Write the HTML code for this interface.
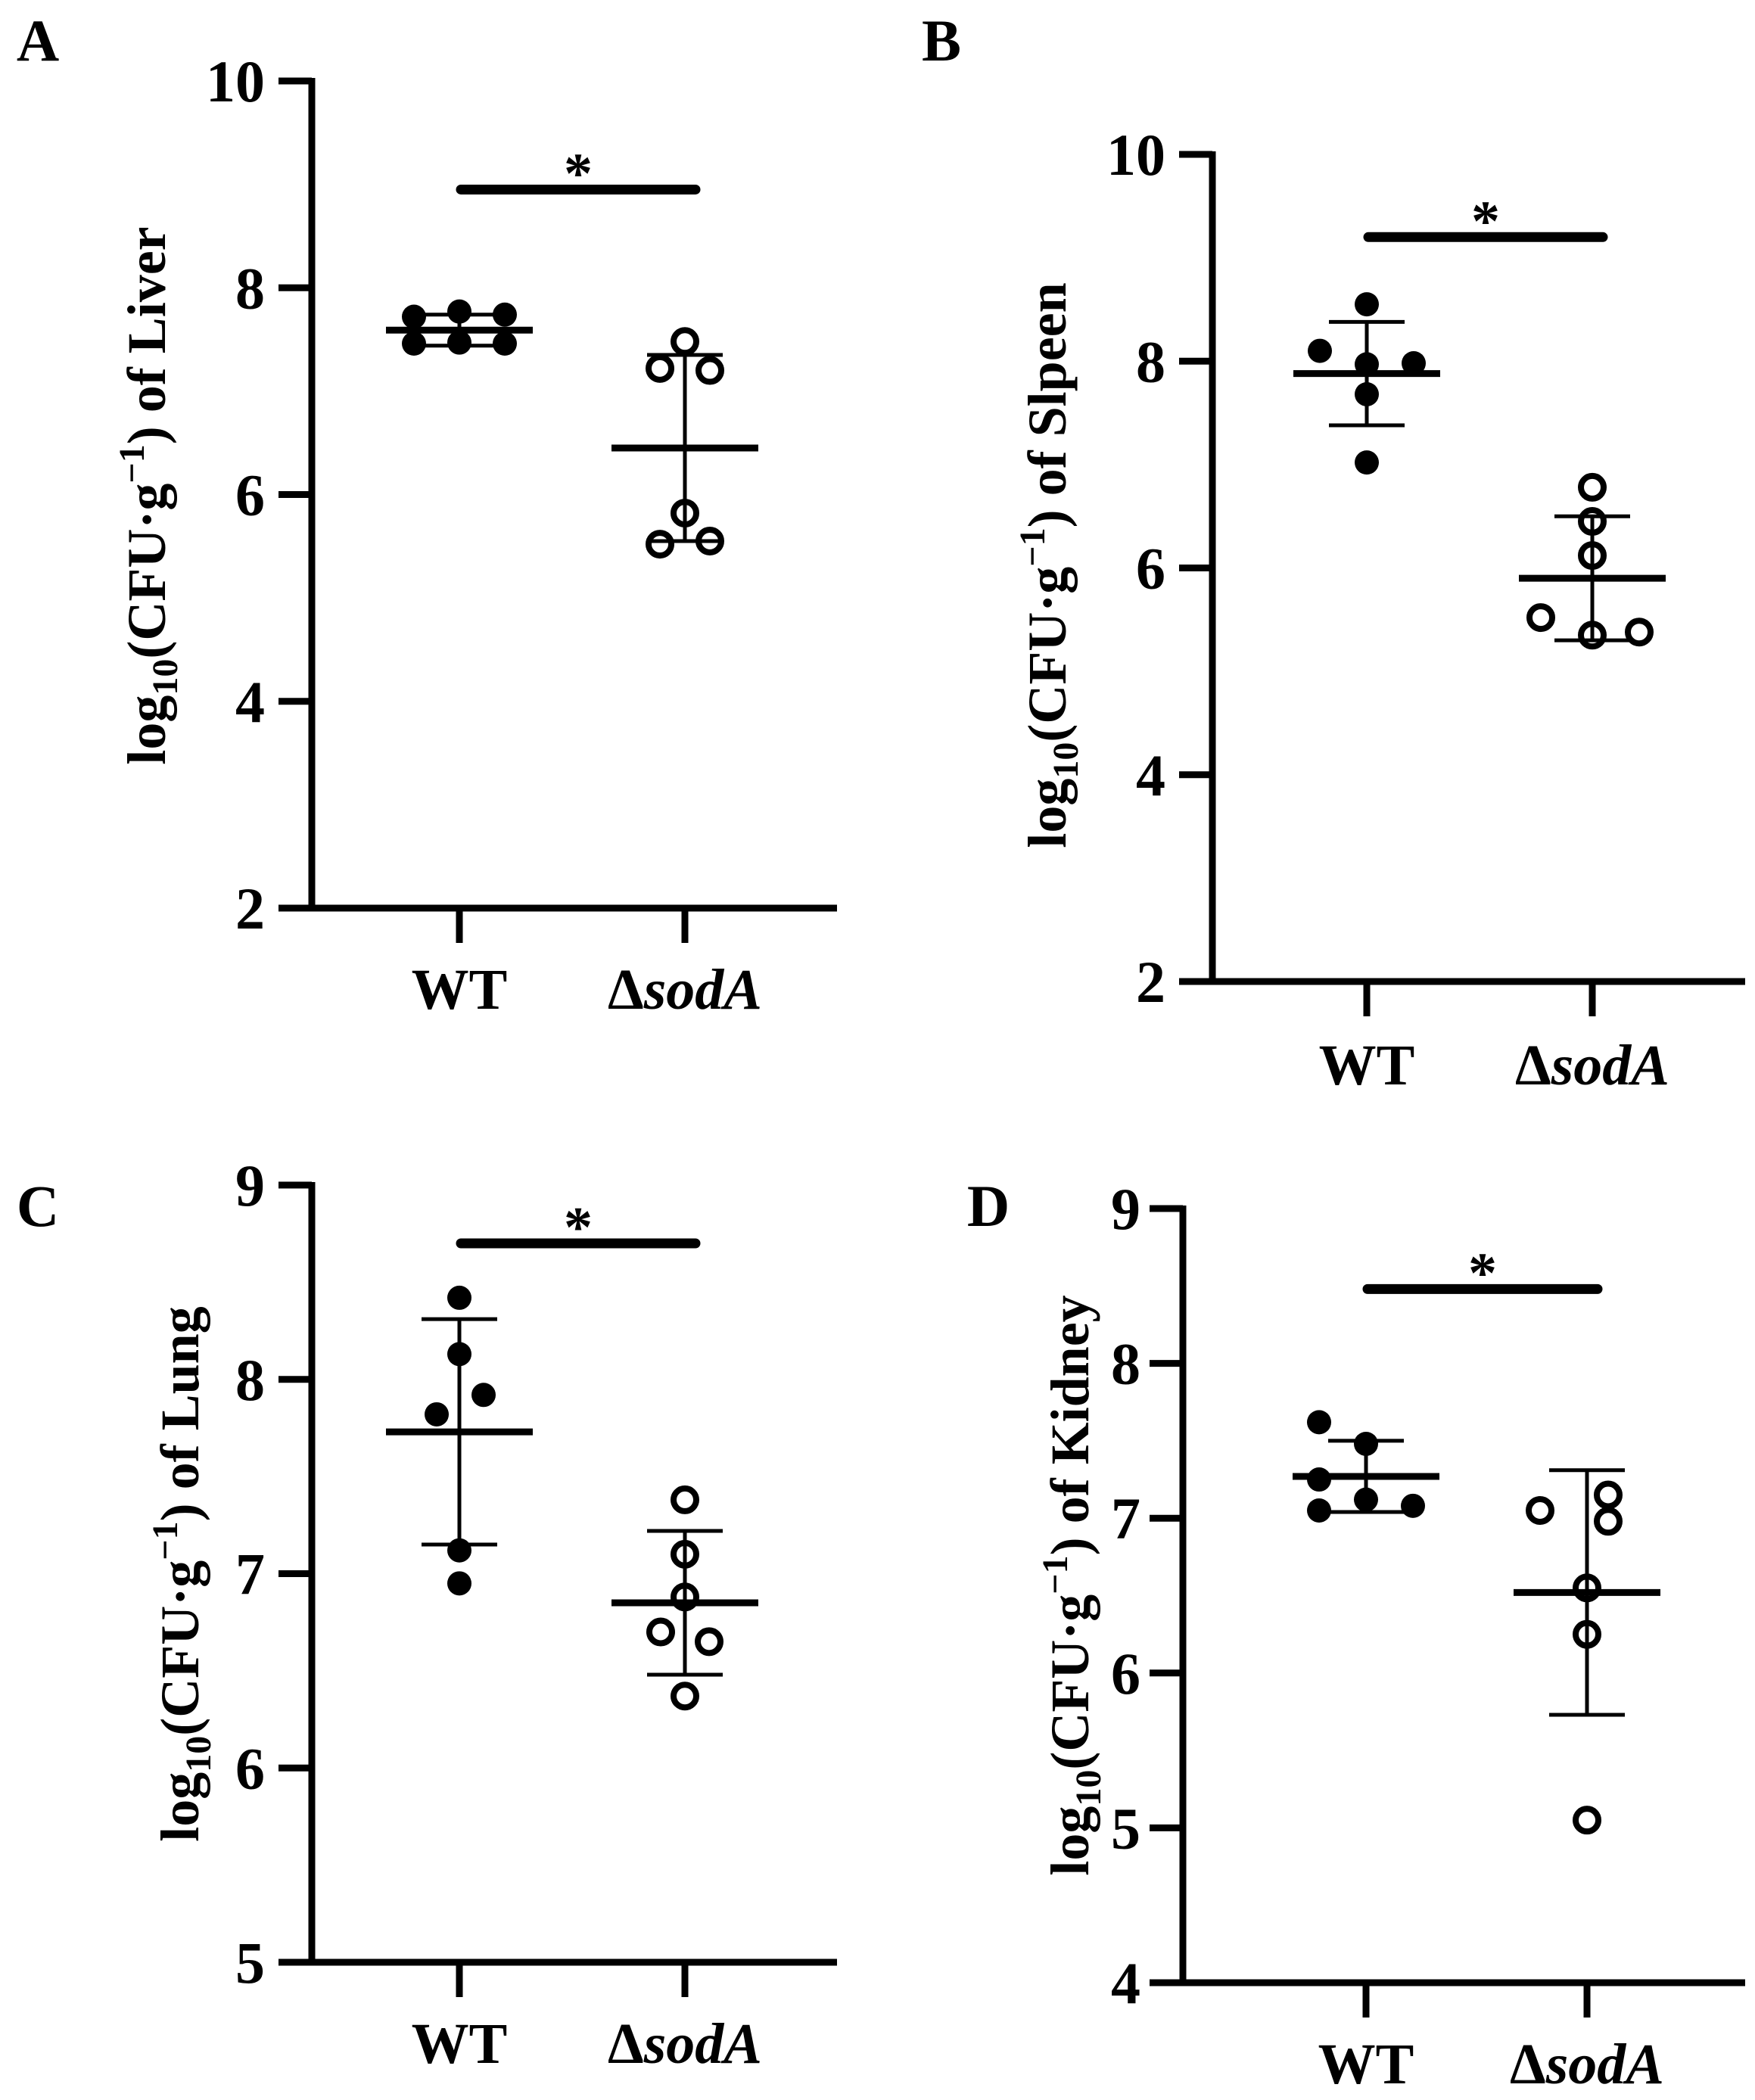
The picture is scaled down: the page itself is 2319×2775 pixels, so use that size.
<!DOCTYPE html>
<html><head><meta charset="utf-8"><style>
html,body{margin:0;padding:0;background:#fff;}
svg{display:block;}
text{font-family:"Liberation Serif",serif;font-weight:bold;fill:#000;}
</style></head><body>
<svg id="fig" width="2319" height="2775" viewBox="0 0 2319 2775" xmlns="http://www.w3.org/2000/svg"></svg>
<script>
// ---- data ----
const categories = ["WT", "sodA"];
const organs = ["Liver", "Slpeen", "Lung", "Kidney"];
const liverWT = [7.72, 7.77, 7.74, 7.46, 7.47, 7.46];
const liverSod = [7.48, 7.22, 7.2, 5.82, 5.52, 5.55];
const spleenWT = [8.55, 8.1, 7.97, 7.98, 7.68, 7.02];
const spleenSod = [6.78, 6.45, 6.12, 5.52, 5.35, 5.38];
const lungWT = [8.42, 8.13, 7.92, 7.82, 7.12, 6.95];
const lungSod = [7.38, 7.1, 6.88, 6.7, 6.65, 6.37];
const kidneyWT = [7.62, 7.48, 7.25, 7.12, 7.08, 7.05];
const kidneySod = [7.05, 7.15, 6.98, 6.55, 6.25, 5.05];
const meansWT = [7.59, 7.88, 7.73, 7.27];
const meansSod = [6.45, 5.9, 6.85, 6.52];
const sdWT = [0.15, 0.5, 0.58, 0.23];
const sdSod = [0.9, 0.6, 0.37, 0.79];
const sigLevels = [8.95, 9.2, 8.7, 8.48];
const tickA = [2, 4, 6, 8, 10];
const tickB = [2, 4, 6, 8, 10];
const tickC = [5, 6, 7, 8, 9];
const tickD = [4, 5, 6, 7, 8, 9];

// jitter offsets (layout, px)
const jitA = [[-60, 0, 60, -60, 0, 60], [0, -33, 33, 0, -33, 33]];
const jitB = [[0, -62, 0, 62, 0, 0], [0, 0, 0, -68, 0, 62]];
const jitC = [[0, 0, 32, -30, 0, 0], [0, 0, 0, -32, 32, 0]];
const jitD = [[-62, 0, -62, 0, 62, -62], [-62, 28, 28, 0, 0, 0]];

const NS = "http://www.w3.org/2000/svg";
const svg = document.getElementById("fig");
function mk(tag, attrs, parent) {
  const e = document.createElementNS(NS, tag);
  for (const k in attrs) e.setAttribute(k, attrs[k]);
  (parent || svg).appendChild(e);
  return e;
}

const panels = [
  {letter: "A", lx: 50, ly: 53, ax: 412, yTop: 107, yBot: 1200, min: 2, max: 10, ticks: tickA, xEnd: 1106, wx: 607, sx: 905, labY: 1333, ylx: 218, yly: 655, tg: 62, wt: liverWT, sod: liverSod, jit: jitA},
  {letter: "B", lx: 1244, ly: 53, ax: 1602, yTop: 204, yBot: 1297, min: 2, max: 10, ticks: tickB, xEnd: 2306, wx: 1806, sx: 2104, labY: 1433, ylx: 1408, yly: 747, tg: 62, wt: spleenWT, sod: spleenSod, jit: jitB},
  {letter: "C", lx: 50, ly: 1593, ax: 412, yTop: 1566, yBot: 2593, min: 5, max: 9, ticks: tickC, xEnd: 1106, wx: 607, sx: 905, labY: 2726, ylx: 262, yly: 2080, tg: 62, wt: lungWT, sod: lungSod, jit: jitC},
  {letter: "D", lx: 1306, ly: 1593, ax: 1563, yTop: 1597, yBot: 2620, min: 4, max: 9, ticks: tickD, xEnd: 2306, wx: 1805, sx: 2097, labY: 2753, ylx: 1438, yly: 2095, tg: 56, wt: kidneyWT, sod: kidneySod, jit: jitD}
];

panels.forEach((p, i) => {
  const g = mk("g", {});
  
  
  const y = v => p.yBot - (v - p.min) / (p.max - p.min) * (p.yBot - p.yTop);

  const L = mk("text", {x: p.lx, y: p.ly + 27, "font-size": 78, "text-anchor": "middle"}, g);
  L.textContent = p.letter;
  
  

  const ya = mk("line", {x1: p.ax, y1: p.yTop - 4, x2: p.ax, y2: p.yBot + 4, stroke: "#000", "stroke-width": 9}, g);
  
  
  const xa = mk("line", {x1: p.ax - 4, y1: p.yBot, x2: p.xEnd, y2: p.yBot, stroke: "#000", "stroke-width": 9}, g);
  
  

  p.ticks.forEach(t => {
    const tl = mk("line", {x1: p.ax - 44, y1: y(t), x2: p.ax, y2: y(t), stroke: "#000", "stroke-width": 9}, g);
    
    
    const tt = mk("text", {x: p.ax - p.tg, y: y(t) + 27, "font-size": 78, "text-anchor": "end"}, g);
    tt.textContent = t;
    
    
  });

  [p.wx, p.sx].forEach((cx, k) => {
    const xt = mk("line", {x1: cx, y1: p.yBot, x2: cx, y2: p.yBot + 46, stroke: "#000", "stroke-width": 9}, g);
    
    
    const lab = mk("text", {x: cx, y: p.labY, "font-size": 76, "text-anchor": "middle"}, g);
    
    
    if (k === 0) lab.textContent = categories[0];
    else {
      const t1 = mk("tspan", {}, lab); t1.textContent = "Δ";
      const t2 = mk("tspan", {"font-style": "italic"}, lab); t2.textContent = categories[1];
    }
  });

  const yl = mk("text", {x: 0, y: 0, "font-size": 72, "text-anchor": "middle", transform: `translate(${p.ylx},${p.yly}) rotate(-90)`}, g);
  
  
  const a = mk("tspan", {}, yl); a.textContent = "log";
  const b = mk("tspan", {"font-size": 48, dy: 16}, yl); b.textContent = "10";
  const c = mk("tspan", {dy: -16}, yl); c.textContent = "(CFU·g";
  const d = mk("tspan", {"font-size": 48, dy: -28}, yl); d.textContent = "−1";
  const e = mk("tspan", {dy: 28}, yl); e.textContent = ") of " + organs[i];

  const groups = [{cx: p.wx, vals: p.wt, m: meansWT[i], s: sdWT[i], open: false, jit: p.jit[0], nm: "wt"},
                  {cx: p.sx, vals: p.sod, m: meansSod[i], s: sdSod[i], open: true, jit: p.jit[1], nm: "soda"}];
  groups.forEach(G => {
    G.vals.forEach((v, j) => {
      const pt = G.open
        ? mk("circle", {cx: G.cx + G.jit[j], cy: y(v), r: 15, fill: "#fff", stroke: "#000", "stroke-width": 8}, g)
        : mk("circle", {cx: G.cx + G.jit[j], cy: y(v), r: 16, fill: "#000"}, g);
      
      
    });
    const ev = mk("line", {x1: G.cx, y1: y(G.m + G.s), x2: G.cx, y2: y(G.m - G.s), stroke: "#000", "stroke-width": 5}, g);
    
    
    [G.m + G.s, G.m - G.s].forEach(cv => {
      const cap = mk("line", {x1: G.cx - 50, y1: y(cv), x2: G.cx + 50, y2: y(cv), stroke: "#000", "stroke-width": 5}, g);
      
      
    });
    const ml = mk("line", {x1: G.cx - 97, y1: y(G.m), x2: G.cx + 97, y2: y(G.m), stroke: "#000", "stroke-width": 9}, g);
    
    
  });

  const sb = mk("line", {x1: p.wx + 2, y1: y(sigLevels[i]), x2: p.sx + 14, y2: y(sigLevels[i]), stroke: "#000", "stroke-width": 13, "stroke-linecap": "round"}, g);
  
  
  const st = mk("text", {x: (p.wx + p.sx) / 2 + 8, y: y(sigLevels[i]) + 4, "font-size": 76, "text-anchor": "middle"}, g);
  st.textContent = "*";
  
  
});
</script>
</body></html>
